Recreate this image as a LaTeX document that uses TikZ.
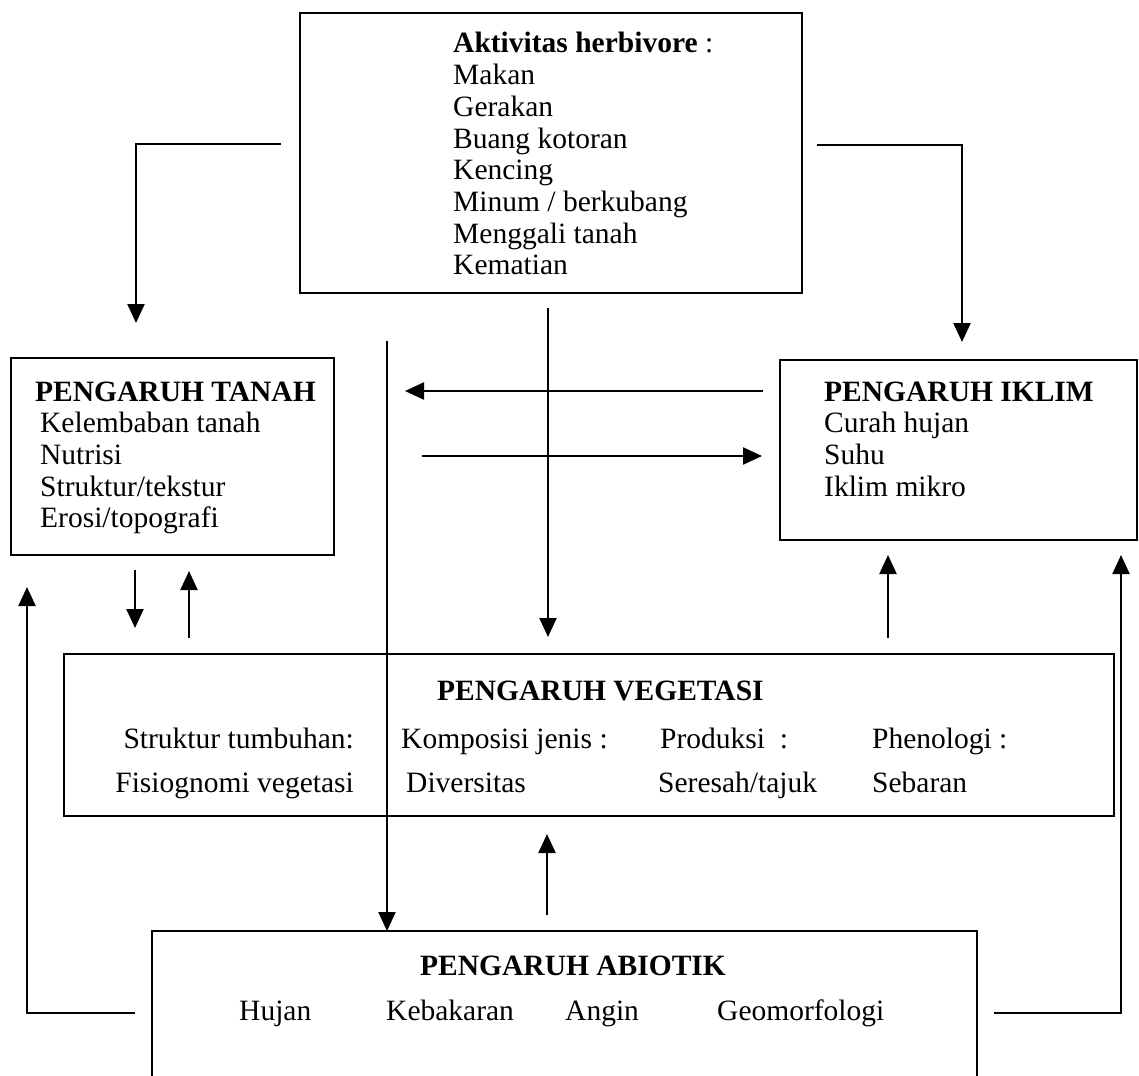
\documentclass[tikz,border=0pt]{standalone}
\usepackage{fontspec}
\setmainfont{Liberation Serif}
\usetikzlibrary{arrows.meta}
\begin{document}
\begin{tikzpicture}[x=1pt,y=-1pt,
  box/.style={draw, line width=2pt, rectangle, inner sep=0pt, anchor=north west},
  conn/.style={line width=2.3pt},
  arr/.style={conn, -{Triangle[length=19pt,width=17pt]}},
  txt/.style={anchor=base west, inner sep=0pt, font=\fontsize{29.5}{31.7}\selectfont},
  txte/.style={txt, anchor=base east},
  ttl/.style={txt, font=\fontsize{29.5}{31.7}\selectfont\bfseries},
]
\useasboundingbox (0,0) rectangle (1139,1075);

% ---------- boxes ----------
\node[box, minimum width=502, minimum height=280] (herb) at (299,12) {};
\node[box, minimum width=323, minimum height=197] (tanah) at (10,357) {};
\node[box, minimum width=357, minimum height=180] (iklim) at (779,359) {};
\node[box, minimum width=1050, minimum height=162] (veg) at (63,653) {};
\node[anchor=north west, inner sep=0pt, minimum width=825, minimum height=146] (abio) at (152,931) {};
\draw[line width=2pt] (abio.south west) -- (abio.north west) -- (abio.north east) -- (abio.south east);

% ---------- herbivore text ----------
\node[txt] (h0) at (453,53) {\textbf{Aktivitas herbivore} :};
\foreach \t [count=\i] in {Makan,Gerakan,Buang kotoran,Kencing,Minum / berkubang,Menggali tanah,Kematian}
  \node[txt] (h\i) at (453,{53+31.7*\i}) {\t};

% ---------- tanah text ----------
\node[ttl] (tt) at (35,401) {PENGARUH TANAH};
\foreach \t [count=\i] in {Kelembaban tanah,Nutrisi,Struktur/tekstur,Erosi/topografi}
  \node[txt] (ta\i) at (40,{401+31.7*\i}) {\t};

% ---------- iklim text ----------
\node[ttl] (it) at (824,401) {PENGARUH IKLIM};
\foreach \t [count=\i] in {Curah hujan,Suhu,Iklim mikro}
  \node[txt] (ik\i) at (824,{401+31.7*\i}) {\t};

% ---------- vegetasi text ----------
\node[ttl] (vt) at (437,700) {PENGARUH VEGETASI};
\node[txte] (v11) at (354,748) {Struktur tumbuhan:};
\node[txte] (v21) at (354,792) {Fisiognomi vegetasi};
\node[txt] (v12) at (401,748) {Komposisi jenis :};
\node[txt] (v22) at (406,792) {Diversitas};
\node[txt] (v13) at (660,748) {Produksi\ \ :};
\node[txt] (v23) at (658,792) {Seresah/tajuk};
\node[txt] (v14) at (872,748) {Phenologi :};
\node[txt] (v24) at (872,792) {Sebaran};

% ---------- abiotik text ----------
\node[ttl] (at) at (420,975) {PENGARUH ABIOTIK};
\node[txt] (a1) at (239,1020) {Hujan};
\node[txt] (a2) at (386,1020) {Kebakaran};
\node[txt] (a3) at (565,1020) {Angin};
\node[txt] (a4) at (717,1020) {Geomorfologi};

% ---------- connector end points ----------
\coordinate (c1s) at (281,144);  \coordinate (c1k) at (136,144);  \coordinate (c1e) at (136,323);
\coordinate (c2s) at (817,145);  \coordinate (c2k) at (962,145);  \coordinate (c2e) at (962,342);
\coordinate (c3s) at (548,308);  \coordinate (c3e) at (548,637);
\coordinate (c4s) at (387,341);  \coordinate (c4e) at (387,931);
\coordinate (c5s) at (763,391);  \coordinate (c5e) at (405,391);
\coordinate (c6s) at (422,456);  \coordinate (c6e) at (762,456);
\coordinate (c7s) at (135,570);  \coordinate (c7e) at (135,628);
\coordinate (c8s) at (189,638);  \coordinate (c8e) at (189,571);
\coordinate (c9s) at (888,638);  \coordinate (c9e) at (888,555);
\coordinate (c10s) at (547,915); \coordinate (c10e) at (547,834);
\coordinate (c11s) at (135,1013); \coordinate (c11k) at (27,1013); \coordinate (c11e) at (27,587);
\coordinate (c12s) at (994,1013); \coordinate (c12k) at (1121,1013); \coordinate (c12e) at (1121,555);

% ---------- connectors ----------
\draw[arr] (c1s) -- (c1k) -- (c1e);
\draw[arr] (c2s) -- (c2k) -- (c2e);
\draw[arr] (c3s) -- (c3e);
\draw[arr] (c4s) -- (c4e);
\draw[arr] (c5s) -- (c5e);
\draw[arr] (c6s) -- (c6e);
\draw[arr] (c7s) -- (c7e);
\draw[arr] (c8s) -- (c8e);
\draw[arr] (c9s) -- (c9e);
\draw[arr] (c10s) -- (c10e);
\draw[arr] (c11s) -- (c11k) -- (c11e);
\draw[arr] (c12s) -- (c12k) -- (c12e);
\end{tikzpicture}
\end{document}
